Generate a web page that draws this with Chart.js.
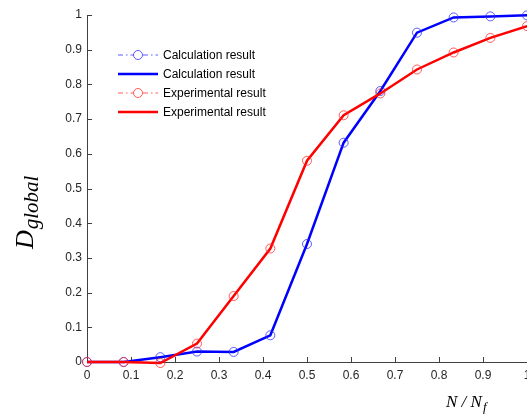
<!DOCTYPE html>
<html>
<head>
<meta charset="utf-8">
<script src="https://cdn.jsdelivr.net/npm/chart.js@4.4.1/dist/chart.umd.min.js"></script>
<style>
html,body{margin:0;padding:0;background:#fff;}
#wrap{position:relative;width:527px;height:415px;}
</style>
</head>
<body>
<div id="wrap"><canvas id="c" width="527" height="415"></canvas></div>
<script>
// ---- data ----
const ratioN = [0, 0.0833, 0.1667, 0.25, 0.3333, 0.4167, 0.5, 0.5833, 0.6667, 0.75, 0.8333, 0.9167, 1.0];
const calcValues = [0, 0, 0.014, 0.030, 0.029, 0.077, 0.340, 0.632, 0.781, 0.949, 0.993, 0.996, 0.999];
const expValues = [0, 0, -0.003, 0.053, 0.190, 0.327, 0.580, 0.711, 0.774, 0.843, 0.892, 0.934, 0.968];
const xTickLabels = ['0', '0.1', '0.2', '0.3', '0.4', '0.5', '0.6', '0.7', '0.8', '0.9', '1'];
const yTickLabels = ['0', '0.1', '0.2', '0.3', '0.4', '0.5', '0.6', '0.7', '0.8', '0.9', '1'];
const seriesNames = ['Calculation result', 'Calculation result', 'Experimental result', 'Experimental result'];

const pts = (ys) => ratioN.map((x, i) => ({x: x, y: ys[i]}));

const BLUE = '#0000ff', RED = '#ff0000';
const BLUE_M = 'rgba(40,40,255,0.75)', RED_M = 'rgba(255,40,40,0.75)';

const axisColor = '#404040';
const textColor = '#262626';
const tickFont = {family: '"Liberation Sans", Arial, sans-serif', size: 12};

const inwardTicks = {
  id: 'inwardTicks',
  beforeDatasetsDraw(chart) {
    const ctx = chart.ctx;
    const xs = chart.scales.x, ys = chart.scales.y;
    ctx.save();
    ctx.strokeStyle = axisColor;
    ctx.lineWidth = 1;
    ctx.beginPath();
    xs.ticks.forEach(t => {
      const px = Math.round(xs.getPixelForValue(t.value)) + 0.5;
      ctx.moveTo(px, ys.bottom);
      ctx.lineTo(px, ys.bottom - 5);
    });
    ys.ticks.forEach(t => {
      const py = Math.round(ys.getPixelForValue(t.value)) + 0.5;
      ctx.moveTo(xs.left, py);
      ctx.lineTo(xs.left + 5, py);
    });
    ctx.stroke();
    ctx.restore();
  }
};

const customLegend = {
  id: 'customLegend',
  afterDraw(chart) {
    const ctx = chart.ctx;
    const styles = [
      {c: BLUE_M, dash: [5, 3, 1.5, 3], w: 1, marker: true},
      {c: BLUE, dash: [], w: 2.5, marker: false},
      {c: RED_M, dash: [5, 3, 1.5, 3], w: 1, marker: true},
      {c: RED, dash: [], w: 2.5, marker: false}
    ];
    const x0 = 118, x1 = 158, tx = 163;
    const rows = [55, 74, 93, 112];
    ctx.save();
    styles.forEach((s, i) => {
      const y = rows[i];
      ctx.strokeStyle = s.c;
      ctx.lineWidth = s.w;
      ctx.setLineDash(s.dash);
      ctx.beginPath();
      ctx.moveTo(x0, y);
      ctx.lineTo(x1, y);
      ctx.stroke();
      ctx.setLineDash([]);
      if (s.marker) {
        ctx.fillStyle = '#fff';
        ctx.beginPath();
        ctx.arc((x0 + x1) / 2, y, 4.5, 0, Math.PI * 2);
        ctx.fill();
        ctx.stroke();
      }
      ctx.fillStyle = '#000';
      ctx.font = '12px "Liberation Sans", Arial, sans-serif';
      ctx.textBaseline = 'middle';
      ctx.textAlign = 'left';
      ctx.fillText(seriesNames[i], tx, y + 1);
    });
    ctx.restore();
  }
};

const axisTitles = {
  id: 'axisTitles',
  afterDraw(chart) {
    const ctx = chart.ctx;
    ctx.save();
    ctx.fillStyle = '#000';
    ctx.textBaseline = 'alphabetic';
    ctx.textAlign = 'left';
    // y title: D_global rotated
    ctx.translate(33, 249);
    ctx.rotate(-Math.PI / 2);
    ctx.font = 'italic 26px "Liberation Serif", "Times New Roman", serif';
    ctx.fillText('D', 0, 0);
    const dw = ctx.measureText('D').width;
    ctx.font = 'italic 21px "Liberation Serif", "Times New Roman", serif';
    ctx.fillText('global', dw + 1, 5);
    ctx.restore();
    // x title: N / N_f
    ctx.save();
    ctx.fillStyle = '#000';
    ctx.textBaseline = 'alphabetic';
    ctx.textAlign = 'left';
    ctx.font = 'italic 17px "Liberation Serif", "Times New Roman", serif';
    ctx.fillText('N / N', 446, 407);
    const nw = ctx.measureText('N / N').width;
    ctx.font = 'italic 13px "Liberation Serif", "Times New Roman", serif';
    ctx.fillText('f', 446 + nw + 1, 411);
    ctx.restore();
  }
};

new Chart(document.getElementById('c'), {
  type: 'line',
  data: {
    datasets: [
      {label: seriesNames[2], data: pts(expValues), showLine: false, borderColor: RED_M, backgroundColor: 'rgba(0,0,0,0)', pointRadius: 4.5, pointBorderWidth: 1, pointHoverRadius: 4.5, order: 0, clip: false},
      {label: seriesNames[3], data: pts(expValues), borderColor: RED, borderWidth: 2.5, pointRadius: 0, tension: 0, order: 1, clip: false},
      {label: seriesNames[0], data: pts(calcValues), showLine: false, borderColor: BLUE_M, backgroundColor: 'rgba(0,0,0,0)', pointRadius: 4.5, pointBorderWidth: 1, pointHoverRadius: 4.5, order: 2, clip: false},
      {label: seriesNames[1], data: pts(calcValues), borderColor: BLUE, borderWidth: 2.5, pointRadius: 0, tension: 0, order: 3, clip: false}
    ]
  },
  options: {
    responsive: false,
    animation: false,
    events: [],
    layout: {autoPadding: false, padding: {top: 15, right: -2, left: 0, bottom: 0}},
    plugins: {legend: {display: false}, tooltip: {enabled: false}},
    scales: {
      x: {
        type: 'linear', min: 0, max: 1,
        afterFit(s) { s.height = 53; s.paddingRight = 0; s.paddingLeft = 0; },
        ticks: {stepSize: 0.1, color: textColor, font: tickFont, padding: 6, maxRotation: 0,
          callback: (v, i) => xTickLabels[i]},
        grid: {display: true, drawOnChartArea: false, drawTicks: false},
        border: {display: true, color: axisColor, width: 1}
      },
      y: {
        type: 'linear', min: 0, max: 1,
        afterFit(s) { s.width = 87; s.paddingTop = 0; s.paddingBottom = 0; },
        ticks: {stepSize: 0.1, color: textColor, font: tickFont, padding: 5,
          callback: (v, i) => yTickLabels[i]},
        grid: {display: true, drawOnChartArea: false, drawTicks: false},
        border: {display: true, color: axisColor, width: 1}
      }
    }
  },
  plugins: [inwardTicks, customLegend, axisTitles]
});
</script>
</body>
</html>
